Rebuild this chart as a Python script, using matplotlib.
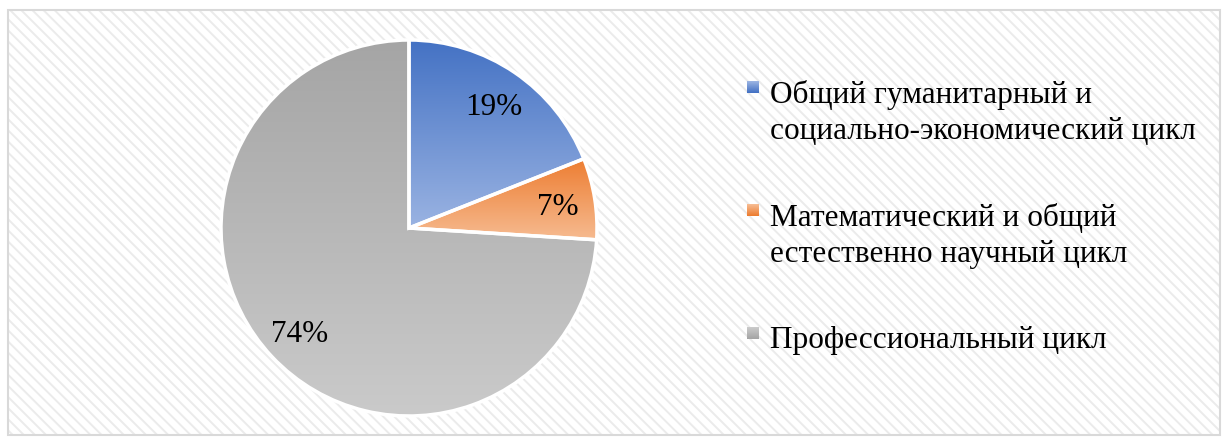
import matplotlib.pyplot as plt
import numpy as np
from matplotlib.patches import Rectangle
from matplotlib.colors import LinearSegmentedColormap

FONT = 'Liberation Serif'
FONT_SIZE = 22.5

categories = ['Общий гуманитарный и\nсоциально-экономический цикл',
              'Математический и общий\nестественно научный цикл',
              'Профессиональный цикл']
shares = [19, 7, 74]
# gradient colours of each slice (top, bottom)
top_colors = ['#4472C4', '#ED7D31', '#A5A5A5']
bottom_colors = ['#9AB3E2', '#F6BB91', '#CACACA']

plt.rcParams['font.family'] = FONT
plt.rcParams['hatch.linewidth'] = 1.4

W, H = 1228, 443
fig = plt.figure(figsize=(W / 100, H / 100), dpi=100)
fig.patch.set_facecolor('white')

# hatched chart area with thin grey frame
fx0, fy0, fx1, fy1 = 8, 10, 1220, 435
fig.patches.append(Rectangle((fx0 / W, 1 - fy1 / H), (fx1 - fx0) / W, (fy1 - fy0) / H,
                             transform=fig.transFigure, facecolor='white',
                             edgecolor='#EBEBEB', hatch='\\\\\\', linewidth=0, zorder=-2))
fig.patches.append(Rectangle((fx0 / W, 1 - fy1 / H), (fx1 - fx0) / W, (fy1 - fy0) / H,
                             transform=fig.transFigure, facecolor='none',
                             edgecolor='#D9D9D9', linewidth=1.5, zorder=-1))

# pie axes: centre (409, 228) px, radius 188 px
cx, cy, r = 409, 228, 188
ax = fig.add_axes([(cx - r) / W, 1 - (cy + r) / H, 2 * r / W, 2 * r / H])
wedges, texts, autotexts = ax.pie(shares, startangle=90, counterclock=False,
                                  autopct='%.0f%%', pctdistance=0.8,
                                  wedgeprops=dict(edgecolor='white', linewidth=2.5),
                                  textprops=dict(fontsize=FONT_SIZE, color='black'))
ax.patch.set_alpha(0)

grad = np.linspace(0, 1, 256).reshape(-1, 1)
for w, c0, c1 in zip(wedges, top_colors, bottom_colors):
    cmap = LinearSegmentedColormap.from_list('g', [c0, c1])
    bb = w.get_path().get_extents(w.get_patch_transform())
    im = ax.imshow(grad, cmap=cmap, aspect='auto',
                   extent=(bb.x0, bb.x1, bb.y0, bb.y1), origin='upper', zorder=0.5)
    im.set_clip_path(w)
    w.set_facecolor('none')
    w.set_zorder(1)
for t in autotexts:
    t.set_zorder(3)
    t.set_va('center_baseline')
ax.set_xlim(-1, 1)
ax.set_ylim(-1, 1)
ax.set_aspect('equal')
ax.axis('off')

# legend drawn by hand so the marker sits on the first line
leg_y = [92, 215, 338]
for lab, yy, c0, c1 in zip(categories, leg_y, top_colors, bottom_colors):
    cmap = LinearSegmentedColormap.from_list('g', [c0, c1])
    sq = cmap(np.linspace(0, 1, 12)).reshape(12, 1, 4).repeat(12, axis=1)
    fig.figimage(sq[::-1], xo=747, yo=H - yy - 1, zorder=4)
    fig.text(770 / W, 1 - (yy - 12) / H, lab, fontsize=FONT_SIZE, va='top', ha='left',
             linespacing=1.3)

fig.savefig('out.png', dpi=100)
